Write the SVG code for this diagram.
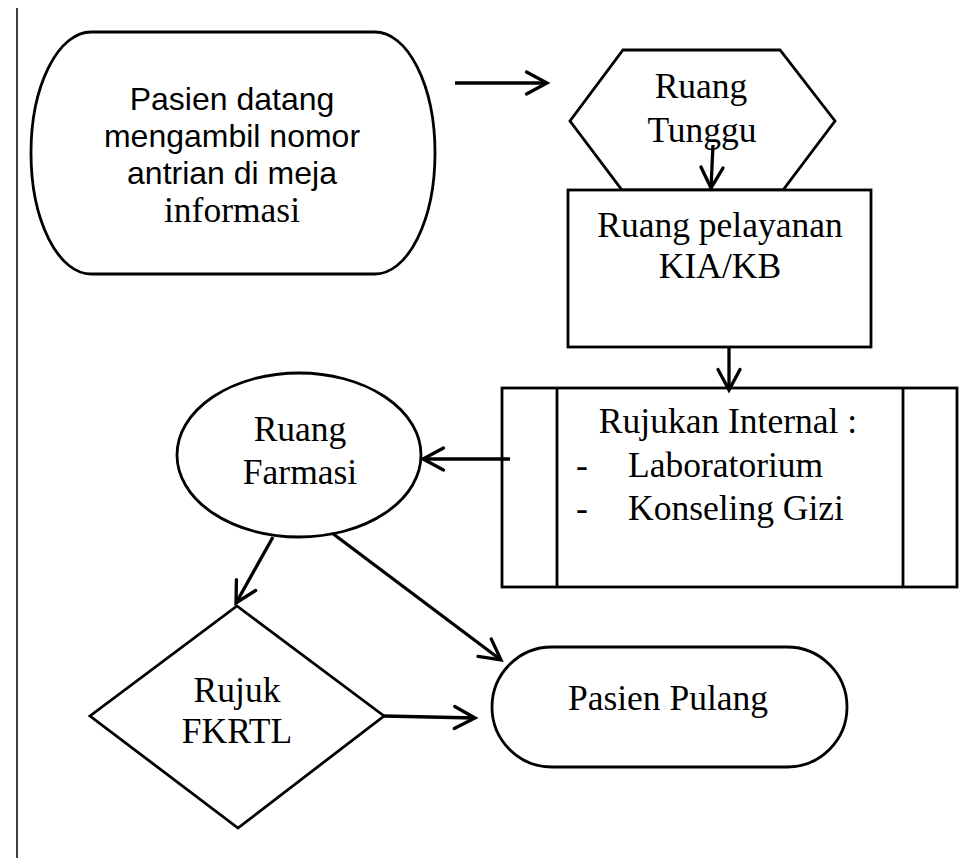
<svg xmlns="http://www.w3.org/2000/svg" width="959" height="860" viewBox="0 0 959 860">
<style>
.s{fill:#fff;stroke:#000;stroke-width:2.8}
.t{font-family:"Liberation Serif","Times New Roman",serif;font-size:35.5px;fill:#000;text-anchor:middle}
.l{text-anchor:start}
.a{font-family:"Liberation Sans",Arial,sans-serif;font-size:32px;fill:#000;text-anchor:middle}
.c{fill:none;stroke:#000;stroke-width:3.3;marker-end:url(#ah)}
</style>
<defs>
<marker id="ah" markerUnits="userSpaceOnUse" markerWidth="30" markerHeight="30" refX="22" refY="12" orient="auto" viewBox="0 0 30 24" overflow="visible">
<path d="M1.5,1 L22,12 L1.5,23" fill="none" stroke="#000" stroke-width="3.3" stroke-linecap="round" stroke-linejoin="miter"/>
</marker>
</defs>
<rect width="959" height="860" fill="#fff"/>
<line x1="17" y1="8" x2="17" y2="858" stroke="#000" stroke-width="1.5"/>
<g id="start">
<rect class="s" x="31" y="32" width="404" height="242" rx="60" ry="121"/>
<text class="a" x="232" y="110">Pasien datang</text>
<text class="a" x="232" y="147">mengambil nomor</text>
<text class="a" x="232" y="184">antrian di meja</text>
<text class="t" x="232" y="222">informasi</text>
</g>
<g id="ruang-tunggu">
<polygon class="s" points="623,50 780,50 835,121 783,190 622,190 570,121"/>
<text class="t" x="701" y="98">Ruang</text>
<text class="t" x="702" y="142">Tunggu</text>
</g>
<g id="ruang-pelayanan">
<rect class="s" x="568" y="190" width="303" height="157"/>
<text class="t" x="720" y="237">Ruang pelayanan</text>
<text class="t" x="720" y="278">KIA/KB</text>
</g>
<g id="rujukan">
<rect class="s" x="502" y="388" width="455" height="199"/>
<line x1="557" y1="388" x2="557" y2="587" stroke="#000" stroke-width="2.8"/>
<line x1="903" y1="388" x2="903" y2="587" stroke="#000" stroke-width="2.8"/>
<text class="t" x="728" y="433">Rujukan Internal :</text>
<text class="t" x="582" y="477">-</text>
<text class="t l" x="628" y="477">Laboratorium</text>
<text class="t" x="582" y="520">-</text>
<text class="t l" x="628" y="520">Konseling Gizi</text>
</g>
<g id="farmasi">
<ellipse class="s" cx="299" cy="455" rx="122" ry="82"/>
<text class="t" x="300" y="441">Ruang</text>
<text class="t" x="300" y="484">Farmasi</text>
</g>
<g id="rujuk-fkrtl">
<polygon class="s" points="237,606 384,716 238,828 90,716"/>
<text class="t" x="237" y="702">Rujuk</text>
<text class="t" x="237" y="743">FKRTL</text>
</g>
<g id="pasien-pulang">
<rect class="s" x="492" y="647" width="355" height="120" rx="60" ry="60"/>
<text class="t" x="668" y="710">Pasien Pulang</text>
</g>
<g id="connectors">
<line class="c" x1="455" y1="83" x2="547" y2="83"/>
<line class="c" x1="713" y1="145" x2="711" y2="188"/>
<line class="c" x1="729" y1="348" x2="729" y2="390"/>
<line class="c" x1="510" y1="459" x2="423" y2="459"/>
<line class="c" x1="273" y1="537" x2="236" y2="603"/>
<line class="c" x1="332" y1="533" x2="501" y2="660"/>
<line class="c" x1="384" y1="716" x2="475" y2="718"/>
</g>
</svg>
